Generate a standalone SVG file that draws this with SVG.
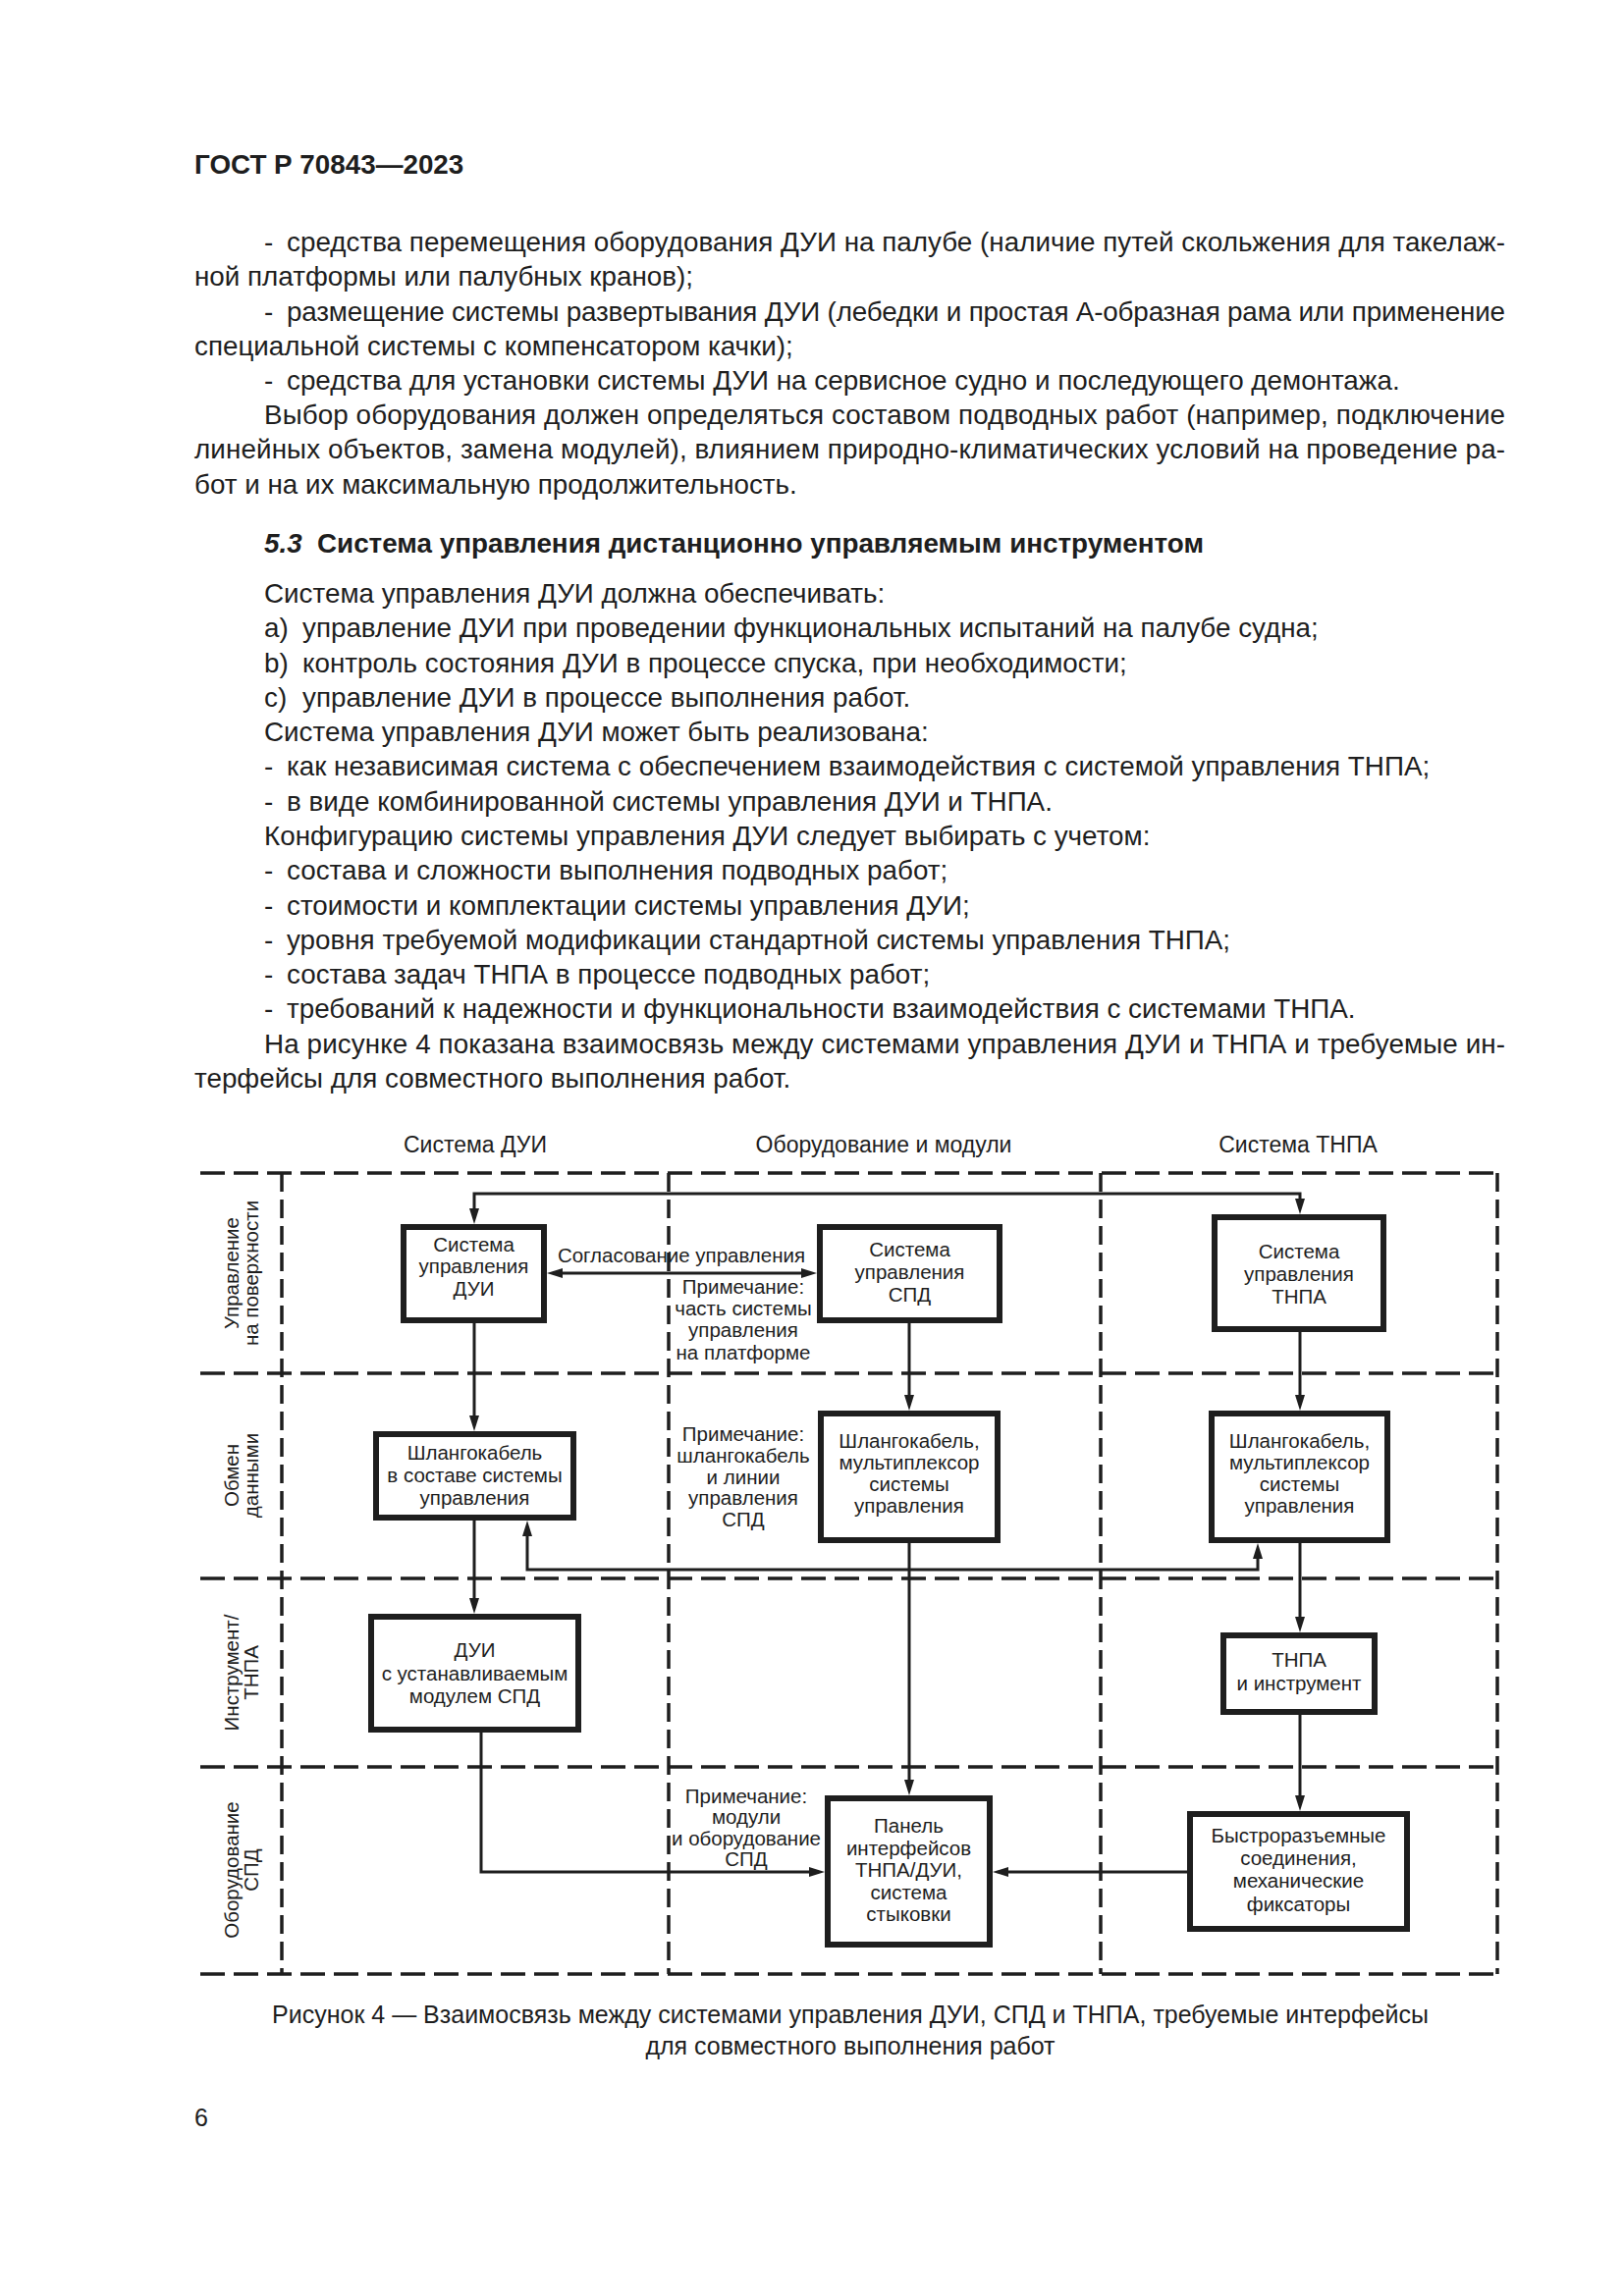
<svg xmlns="http://www.w3.org/2000/svg" width="1654" height="2339" viewBox="0 0 1654 2339">
<style>
text{font-family:"Liberation Sans",Arial,sans-serif;fill:#1e1e1e}
.b{font-size:27.8px}
.bb{font-size:27.8px;font-weight:bold}
.cap{font-size:25px;text-anchor:middle}
.pg{font-size:25px}
.hd{font-size:23px;text-anchor:middle}
.t{font-size:20.5px;text-anchor:middle}
.grid{stroke:#1e1e1e;stroke-width:3.5;fill:none}
.gh{stroke-dasharray:25 9}
.gv{stroke-dasharray:19 8}
.box{fill:#fff;stroke:#1e1e1e;stroke-width:6}
.c{stroke:#1e1e1e;stroke-width:3;fill:none}
.a1{marker-end:url(#ah)}
.a2{marker-start:url(#ah);marker-end:url(#ah)}
</style>
<defs>
<marker id="ah" markerUnits="userSpaceOnUse" markerWidth="16" markerHeight="10" refX="10" refY="5" orient="auto-start-reverse" viewBox="0 0 16 10">
<path d="M0,0 L16,5 L0,10 Z" fill="#1e1e1e"/>
</marker>
</defs>
<rect width="1654" height="2339" fill="#fff"/>

<g id="page-text">
<text class="bb" x="198" y="177">ГОСТ Р 70843—2023</text>
<text class="b" x="269" y="256">-</text>
<text class="b" x="292" y="256" textLength="1241" lengthAdjust="spacing">средства перемещения оборудования ДУИ на палубе (наличие путей скольжения для такелаж-</text>
<text class="b" x="198" y="291">ной платформы или палубных кранов);</text>
<text class="b" x="269" y="327">-</text>
<text class="b" x="292" y="327" textLength="1241" lengthAdjust="spacing">размещение системы развертывания ДУИ (лебедки и простая А-образная рама или применение</text>
<text class="b" x="198" y="362">специальной системы с компенсатором качки);</text>
<text class="b" x="269" y="397">-</text>
<text class="b" x="292" y="397">средства для установки системы ДУИ на сервисное судно и последующего демонтажа.</text>
<text class="b" x="269" y="432" textLength="1264" lengthAdjust="spacing">Выбор оборудования должен определяться составом подводных работ (например, подключение</text>
<text class="b" x="198" y="467" textLength="1335" lengthAdjust="spacing">линейных объектов, замена модулей), влиянием природно-климатических условий на проведение ра-</text>
<text class="b" x="198" y="503">бот и на их максимальную продолжительность.</text>

<text class="bb" x="269" y="563"><tspan font-style="italic">5.3</tspan></text>
<text class="bb" x="323" y="563">Система управления дистанционно управляемым инструментом</text>
<text class="b" x="269" y="614">Система управления ДУИ должна обеспечивать:</text>
<text class="b" x="269" y="649">a)</text>
<text class="b" x="308" y="649">управление ДУИ при проведении функциональных испытаний на палубе судна;</text>
<text class="b" x="269" y="685">b)</text>
<text class="b" x="308" y="685">контроль состояния ДУИ в процессе спуска, при необходимости;</text>
<text class="b" x="269" y="720">c)</text>
<text class="b" x="308" y="720">управление ДУИ в процессе выполнения работ.</text>
<text class="b" x="269" y="755">Система управления ДУИ может быть реализована:</text>
<text class="b" x="269" y="790">-</text>
<text class="b" x="292" y="790">как независимая система с обеспечением взаимодействия с системой управления ТНПА;</text>
<text class="b" x="269" y="826">-</text>
<text class="b" x="292" y="826">в виде комбинированной системы управления ДУИ и ТНПА.</text>
<text class="b" x="269" y="861">Конфигурацию системы управления ДУИ следует выбирать с учетом:</text>
<text class="b" x="269" y="896">-</text>
<text class="b" x="292" y="896">состава и сложности выполнения подводных работ;</text>
<text class="b" x="269" y="932">-</text>
<text class="b" x="292" y="932">стоимости и комплектации системы управления ДУИ;</text>
<text class="b" x="269" y="967">-</text>
<text class="b" x="292" y="967">уровня требуемой модификации стандартной системы управления ТНПА;</text>
<text class="b" x="269" y="1002">-</text>
<text class="b" x="292" y="1002">состава задач ТНПА в процессе подводных работ;</text>
<text class="b" x="269" y="1037">-</text>
<text class="b" x="292" y="1037">требований к надежности и функциональности взаимодействия с системами ТНПА.</text>
<text class="b" x="269" y="1073" textLength="1264" lengthAdjust="spacing">На рисунке 4 показана взаимосвязь между системами управления ДУИ и ТНПА и требуемые ин-</text>
<text class="b" x="198" y="1108">терфейсы для совместного выполнения работ.</text>

<text class="cap" x="866" y="2061">Рисунок 4 — Взаимосвязь между системами управления ДУИ, СПД и ТНПА, требуемые интерфейсы</text>
<text class="cap" x="866" y="2093">для совместного выполнения работ</text>
<text class="pg" x="198" y="2166">6</text>
</g>

<g id="headers">
<text class="hd" x="484" y="1174">Система ДУИ</text>
<text class="hd" x="900" y="1174">Оборудование и модули</text>
<text class="hd" x="1322" y="1174">Система ТНПА</text>
</g>

<g id="grid">
<path class="grid gh" d="M204,1195H1525 M204,1399H1525 M204,1608H1525 M204,1800H1525 M204,2011H1525"/>
<path class="grid gv" d="M287,1195V2011 M681,1195V2011 M1121,1195V2011 M1525,1195V2011"/>
</g>

<g id="row-labels">
<text class="t" transform="translate(245,1297) rotate(-90)"><tspan x="0" y="-2">Управление</tspan><tspan x="0" y="18">на поверхности</tspan></text>
<text class="t" transform="translate(245,1503) rotate(-90)"><tspan x="0" y="-2">Обмен</tspan><tspan x="0" y="18">данными</tspan></text>
<text class="t" transform="translate(245,1704) rotate(-90)"><tspan x="0" y="-2">Инструмент/</tspan><tspan x="0" y="18">ТНПА</tspan></text>
<text class="t" transform="translate(245,1905) rotate(-90)"><tspan x="0" y="-2">Оборудование</tspan><tspan x="0" y="18">СПД</tspan></text>
</g>

<g id="connectors">
<path class="c a2" d="M483,1241 V1216 H1324 V1231"/>
<path class="c a2" d="M563,1297 H826"/>
<path class="c a1" d="M483,1348 V1452"/>
<path class="c a1" d="M483,1549 V1638"/>
<path class="c a2" d="M537,1555 V1599 H1281 V1578"/>
<path class="c a1" d="M926,1348 V1431"/>
<path class="c a1" d="M926,1572 V1823"/>
<path class="c a1" d="M1324,1357 V1431"/>
<path class="c a1" d="M1324,1572 V1657"/>
<path class="c a1" d="M1324,1747 V1839"/>
<path class="c a1" d="M1209,1907 H1017"/>
<path class="c a1" d="M490,1765 V1907 H834"/>
<text class="t" x="694" y="1286">Согласование управления</text>
</g>

<g id="notes">
<text class="t" x="757"><tspan x="757" y="1318">Примечание:</tspan><tspan x="757" y="1340">часть системы</tspan><tspan x="757" y="1362">управления</tspan><tspan x="757" y="1385">на платформе</tspan></text>
<text class="t" x="757"><tspan x="757" y="1468">Примечание:</tspan><tspan x="757" y="1490">шлангокабель</tspan><tspan x="757" y="1512">и линии</tspan><tspan x="757" y="1533">управления</tspan><tspan x="757" y="1555">СПД</tspan></text>
<text class="t" x="760"><tspan x="760" y="1837">Примечание:</tspan><tspan x="760" y="1858">модули</tspan><tspan x="760" y="1880">и оборудование</tspan><tspan x="760" y="1901">СПД</tspan></text>
</g>

<g id="n-dui-control">
<rect class="box" x="411" y="1250" width="143" height="95"/>
<text class="t"><tspan x="482.5" y="1275">Система</tspan><tspan x="482.5" y="1297">управления</tspan><tspan x="482.5" y="1320">ДУИ</tspan></text>
</g>
<g id="n-spd-control">
<rect class="box" x="835" y="1250" width="183" height="95"/>
<text class="t"><tspan x="926.5" y="1280">Система</tspan><tspan x="926.5" y="1303">управления</tspan><tspan x="926.5" y="1326">СПД</tspan></text>
</g>
<g id="n-tnpa-control">
<rect class="box" x="1237" y="1240" width="172" height="114"/>
<text class="t"><tspan x="1323" y="1282">Система</tspan><tspan x="1323" y="1305">управления</tspan><tspan x="1323" y="1328">ТНПА</tspan></text>
</g>
<g id="n-dui-umbilical">
<rect class="box" x="383" y="1461" width="201" height="85"/>
<text class="t"><tspan x="483.5" y="1487">Шлангокабель</tspan><tspan x="483.5" y="1510">в составе системы</tspan><tspan x="483.5" y="1533">управления</tspan></text>
</g>
<g id="n-spd-umbilical">
<rect class="box" x="836" y="1440" width="180" height="129"/>
<text class="t"><tspan x="926" y="1475">Шлангокабель,</tspan><tspan x="926" y="1497">мультиплексор</tspan><tspan x="926" y="1519">системы</tspan><tspan x="926" y="1541">управления</tspan></text>
</g>
<g id="n-tnpa-umbilical">
<rect class="box" x="1234" y="1440" width="179" height="129"/>
<text class="t"><tspan x="1323.5" y="1475">Шлангокабель,</tspan><tspan x="1323.5" y="1497">мультиплексор</tspan><tspan x="1323.5" y="1519">системы</tspan><tspan x="1323.5" y="1541">управления</tspan></text>
</g>
<g id="n-dui-tool">
<rect class="box" x="378" y="1647" width="211" height="115"/>
<text class="t"><tspan x="483.5" y="1688">ДУИ</tspan><tspan x="483.5" y="1712">с устанавливаемым</tspan><tspan x="483.5" y="1735">модулем СПД</tspan></text>
</g>
<g id="n-tnpa-tool">
<rect class="box" x="1246" y="1666" width="154" height="78"/>
<text class="t"><tspan x="1323" y="1698">ТНПА</tspan><tspan x="1323" y="1722">и инструмент</tspan></text>
</g>
<g id="n-interface-panel">
<rect class="box" x="843" y="1832" width="165" height="149"/>
<text class="t"><tspan x="925.5" y="1867">Панель</tspan><tspan x="925.5" y="1890">интерфейсов</tspan><tspan x="925.5" y="1912">ТНПА/ДУИ,</tspan><tspan x="925.5" y="1935">система</tspan><tspan x="925.5" y="1957">стыковки</tspan></text>
</g>
<g id="n-quick-connect">
<rect class="box" x="1212" y="1848" width="221" height="117"/>
<text class="t"><tspan x="1322.5" y="1877">Быстроразъемные</tspan><tspan x="1322.5" y="1900">соединения,</tspan><tspan x="1322.5" y="1923">механические</tspan><tspan x="1322.5" y="1947">фиксаторы</tspan></text>
</g>
</svg>
